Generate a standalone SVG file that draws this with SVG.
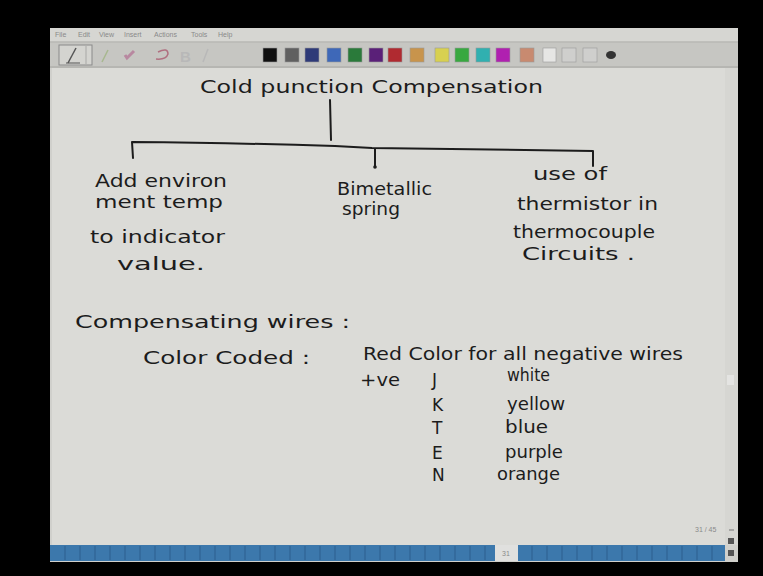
<svg xmlns="http://www.w3.org/2000/svg" width="763" height="576" viewBox="0 0 763 576">
<style>
.hw{font-family:"DejaVu Sans","Liberation Sans",sans-serif;fill:#1c1c1c;font-size:17px}
.menu{font-family:"Liberation Sans",sans-serif;font-size:7px;fill:#8a8a8a}
.ln{fill:none;stroke:#1c1c1c;stroke-width:2;stroke-linecap:round;stroke-linejoin:round}
.sw{stroke:#9a9a9a;stroke-width:0.6}
.seg{stroke:#2c5f8e;stroke-width:1}
</style>
<rect x="0" y="0" width="763" height="576" fill="#000"/>
<g id="window">
<rect x="50" y="28" width="688" height="534" fill="#d0d0cc"/>
<rect x="50" y="28" width="688" height="14" fill="#d6d6d2"/>
<line x1="50" y1="42" x2="738" y2="42" stroke="#a8a8a4"/>
<rect x="50" y="43" width="688" height="23" fill="#c6c6c2"/>
<line x1="50" y1="67" x2="738" y2="67" stroke="#9c9c98"/>
<text class="menu" x="55" y="37">File</text>
<text class="menu" x="78" y="37">Edit</text>
<text class="menu" x="99" y="37">View</text>
<text class="menu" x="124" y="37">Insert</text>
<text class="menu" x="154" y="37">Actions</text>
<text class="menu" x="191" y="37">Tools</text>
<text class="menu" x="218" y="37">Help</text>
<rect x="59" y="45" width="33" height="20" fill="#d4d4d0" stroke="#8a8a8a"/>
<line x1="68" y1="63" x2="76" y2="48" stroke="#555" stroke-width="1.5"/>
<line x1="66" y1="63" x2="80" y2="63" stroke="#555"/>
<line x1="86" y1="46" x2="86" y2="64" stroke="#8a8a8a" stroke-width="0.6"/>
<line x1="102" y1="62" x2="108" y2="50" stroke="#a8b890" stroke-width="1.5"/>
<path d="M125,55 L127,58 L134,51" fill="none" stroke="#b888a0" stroke-width="3"/>
<path d="M158,52 Q168,47 168,54 Q166,60 156,59" fill="none" stroke="#b07080" stroke-width="1.5"/>
<text x="180" y="62" font-family="Liberation Sans,sans-serif" font-size="15" font-weight="bold" fill="#b8b8b8">B</text>
<line x1="203" y1="62" x2="208" y2="49" stroke="#b8b8b8" stroke-width="1.5"/>
<rect class="sw" x="263" y="48" width="14" height="14" fill="#101010"/>
<rect class="sw" x="285" y="48" width="14" height="14" fill="#606060"/>
<rect class="sw" x="305" y="48" width="14" height="14" fill="#2e3a78"/>
<rect class="sw" x="327" y="48" width="14" height="14" fill="#3e68b8"/>
<rect class="sw" x="348" y="48" width="14" height="14" fill="#2a7a3a"/>
<rect class="sw" x="369" y="48" width="14" height="14" fill="#5a2078"/>
<rect class="sw" x="388" y="48" width="14" height="14" fill="#b02a30"/>
<rect class="sw" x="410" y="48" width="14" height="14" fill="#c8944c"/>
<rect class="sw" x="435" y="48" width="14" height="14" fill="#d8d050"/>
<rect class="sw" x="455" y="48" width="14" height="14" fill="#38a840"/>
<rect class="sw" x="476" y="48" width="14" height="14" fill="#30b0b0"/>
<rect class="sw" x="496" y="48" width="14" height="14" fill="#b020b0"/>
<rect class="sw" x="520" y="48" width="14" height="14" fill="#c88a70"/>
<rect class="sw" x="543" y="48" width="13" height="14" fill="#e6e6e4"/>
<rect class="sw" x="562" y="48" width="14" height="14" fill="#cfcfcd"/>
<rect class="sw" x="583" y="48" width="14" height="14" fill="#cfcfcd"/>
<ellipse cx="611" cy="55" rx="5" ry="4" fill="#333"/>
<rect x="52" y="68" width="673" height="477" fill="#dbdbd7"/>
<rect x="725" y="68" width="13" height="477" fill="#d6d6d2"/>
<rect x="727" y="375" width="7" height="10" fill="#e4e4e2"/>
<text class="menu" x="695" y="532" font-size="6">31 / 45</text>
<line x1="729" y1="530" x2="734" y2="530" stroke="#777"/>
<rect x="728" y="538" width="6" height="6" fill="#555"/>
<rect x="728" y="550" width="6" height="6" fill="#555"/>
<rect x="50" y="545" width="445" height="16" fill="#3c78ac"/>
<rect x="518" y="545" width="207" height="16" fill="#3c78ac"/>
<rect x="495" y="545" width="23" height="16" fill="#e0e0de"/>
<text class="menu" x="502" y="556" font-size="6">31</text>
<g class="seg">
<line x1="65" y1="546" x2="65" y2="560"/><line x1="80" y1="546" x2="80" y2="560"/><line x1="95" y1="546" x2="95" y2="560"/><line x1="110" y1="546" x2="110" y2="560"/><line x1="125" y1="546" x2="125" y2="560"/><line x1="140" y1="546" x2="140" y2="560"/><line x1="155" y1="546" x2="155" y2="560"/><line x1="170" y1="546" x2="170" y2="560"/><line x1="185" y1="546" x2="185" y2="560"/><line x1="200" y1="546" x2="200" y2="560"/><line x1="215" y1="546" x2="215" y2="560"/><line x1="230" y1="546" x2="230" y2="560"/><line x1="245" y1="546" x2="245" y2="560"/><line x1="260" y1="546" x2="260" y2="560"/><line x1="275" y1="546" x2="275" y2="560"/><line x1="290" y1="546" x2="290" y2="560"/><line x1="305" y1="546" x2="305" y2="560"/><line x1="320" y1="546" x2="320" y2="560"/><line x1="335" y1="546" x2="335" y2="560"/><line x1="350" y1="546" x2="350" y2="560"/><line x1="365" y1="546" x2="365" y2="560"/><line x1="380" y1="546" x2="380" y2="560"/><line x1="395" y1="546" x2="395" y2="560"/><line x1="410" y1="546" x2="410" y2="560"/><line x1="425" y1="546" x2="425" y2="560"/><line x1="440" y1="546" x2="440" y2="560"/><line x1="455" y1="546" x2="455" y2="560"/><line x1="470" y1="546" x2="470" y2="560"/><line x1="485" y1="546" x2="485" y2="560"/>
<line x1="532" y1="546" x2="532" y2="560"/><line x1="547" y1="546" x2="547" y2="560"/><line x1="562" y1="546" x2="562" y2="560"/><line x1="577" y1="546" x2="577" y2="560"/><line x1="592" y1="546" x2="592" y2="560"/><line x1="607" y1="546" x2="607" y2="560"/><line x1="622" y1="546" x2="622" y2="560"/><line x1="637" y1="546" x2="637" y2="560"/><line x1="652" y1="546" x2="652" y2="560"/><line x1="667" y1="546" x2="667" y2="560"/><line x1="682" y1="546" x2="682" y2="560"/><line x1="697" y1="546" x2="697" y2="560"/><line x1="712" y1="546" x2="712" y2="560"/>
</g>
</g>
<g id="title">
<text class="hw" x="200" y="93" font-size="19" textLength="343" lengthAdjust="spacingAndGlyphs">Cold punction Compensation</text>
</g>
<g id="connectors">
<path class="ln" d="M330,100 L331,140"/>
<path class="ln" d="M133,158 L132,142 Q240,143 335,146 L372,148 L593,151 L593,166"/>
<path class="ln" d="M375,149 L375,167"/>
<circle cx="375" cy="167" r="1.8" fill="#1c1c1c"/>
</g>
<g id="branch-environ">
<text class="hw" x="95" y="187" textLength="132" lengthAdjust="spacingAndGlyphs">Add environ</text>
<text class="hw" x="95" y="208" textLength="128" lengthAdjust="spacingAndGlyphs">ment temp</text>
<text class="hw" x="90" y="243" textLength="135" lengthAdjust="spacingAndGlyphs">to indicator</text>
<text class="hw" x="117" y="270" textLength="88" lengthAdjust="spacingAndGlyphs">value.</text>
</g>
<g id="branch-bimetallic">
<text class="hw" x="337" y="195" textLength="95" lengthAdjust="spacingAndGlyphs">Bimetallic</text>
<text class="hw" x="342" y="215" textLength="58" lengthAdjust="spacingAndGlyphs">spring</text>
</g>
<g id="branch-thermistor">
<text class="hw" x="533" y="180" textLength="74" lengthAdjust="spacingAndGlyphs">use of</text>
<text class="hw" x="517" y="210" textLength="141" lengthAdjust="spacingAndGlyphs">thermistor in</text>
<text class="hw" x="513" y="238" textLength="142" lengthAdjust="spacingAndGlyphs">thermocouple</text>
<text class="hw" x="522" y="260" textLength="113" lengthAdjust="spacingAndGlyphs">Circuits  .</text>
</g>
<g id="compensating-wires">
<text class="hw" x="75" y="328" font-size="22" textLength="275" lengthAdjust="spacingAndGlyphs">Compensating wires :</text>
<text class="hw" x="143" y="364" textLength="167" lengthAdjust="spacingAndGlyphs">Color Coded :</text>
<text class="hw" x="363" y="360" textLength="320" lengthAdjust="spacingAndGlyphs">Red Color for all negative wires</text>
<text class="hw" x="360" y="386" textLength="40" lengthAdjust="spacingAndGlyphs">+ve</text>
<text class="hw" x="432" y="386">J</text>
<text class="hw" x="432" y="411">K</text>
<text class="hw" x="432" y="434">T</text>
<text class="hw" x="432" y="459">E</text>
<text class="hw" x="432" y="481">N</text>
<text class="hw" x="507" y="381" textLength="43" lengthAdjust="spacingAndGlyphs">white</text>
<text class="hw" x="507" y="410" textLength="58" lengthAdjust="spacingAndGlyphs">yellow</text>
<text class="hw" x="505" y="433" textLength="43" lengthAdjust="spacingAndGlyphs">blue</text>
<text class="hw" x="505" y="458" textLength="58" lengthAdjust="spacingAndGlyphs">purple</text>
<text class="hw" x="497" y="480" textLength="63" lengthAdjust="spacingAndGlyphs">orange</text>
</g>
</svg>
